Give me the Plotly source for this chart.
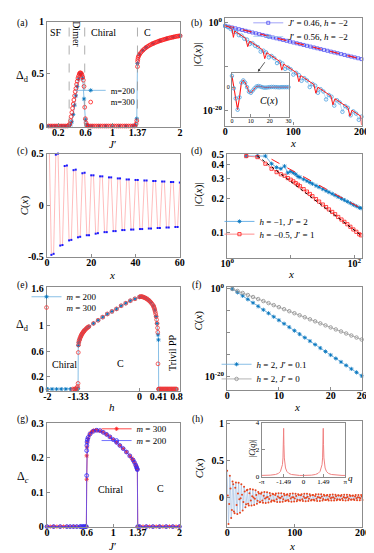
import plotly.graph_objects as go

W, H = 374, 553
SERIF = "Liberation Serif"
FRAME = "#8c8c8c"
BLUE = "#0072BD"
LBLUE = "#6aaee0"
RED = "#ff1a1a"

# ---------------- (a) dimer order vs J'
a_j_m200 = [0.05, 0.1, 0.15, 0.2, 0.25, 0.3, 0.35, 0.38, 0.4, 0.42, 0.44, 0.46, 0.48, 0.5,
            0.52, 0.54, 0.56, 0.58, 0.6, 0.62, 0.65, 0.7, 0.8, 0.9, 1.0, 1.1, 1.2, 1.3,
            1.34, 1.36, 1.37, 1.4, 1.45, 1.5, 1.6, 1.7, 1.8, 1.9, 2.0]
a_d_m200 = [0, 0, 0, 0, 0, 0, 0, 0.01, 0.04, 0.11, 0.2, 0.29, 0.38, 0.45,
            0.5, 0.5, 0.46, 0.26, 0.06, 0.01, 0, 0, 0, 0, 0, 0, 0, 0,
            0.01, 0.07, 0.6, 0.688, 0.727, 0.755, 0.792, 0.818, 0.838, 0.854, 0.866]
a_j_m300 = [0.03, 0.06, 0.09, 0.12, 0.15, 0.18, 0.21, 0.24, 0.27, 0.3, 0.33,
            0.35, 0.37, 0.38, 0.39, 0.4, 0.41, 0.42, 0.43, 0.44, 0.45, 0.46, 0.47, 0.48, 0.49,
            0.5, 0.51, 0.52, 0.53, 0.54, 0.55, 0.56, 0.57, 0.58, 0.59, 0.6, 0.61, 0.62,
            0.64, 0.67, 0.7, 0.73, 0.76, 0.79, 0.82, 0.85, 0.88, 0.91, 0.94, 0.97, 1.0, 1.03,
            1.06, 1.09, 1.12, 1.15, 1.18, 1.21, 1.24, 1.27, 1.3, 1.33,
            1.35, 1.36, 1.37, 1.372, 1.375, 1.38, 1.39, 1.4,
            1.42, 1.44, 1.46, 1.48, 1.5, 1.52, 1.54, 1.56, 1.58, 1.6, 1.62, 1.64, 1.66, 1.68,
            1.7, 1.72, 1.74, 1.76, 1.78, 1.8, 1.82, 1.84, 1.86, 1.88, 1.9, 1.92, 1.94, 1.96,
            1.98, 2.0]
a_d_m300 = [0, 0, 0, 0, 0, 0, 0, 0, 0, 0, 0,
            0.005, 0.02, 0.05, 0.09, 0.13, 0.17, 0.21, 0.25, 0.29, 0.33, 0.36, 0.4, 0.43, 0.46,
            0.48, 0.5, 0.51, 0.51, 0.505, 0.49, 0.47, 0.44, 0.38, 0.18, 0.07, 0.03, 0.01,
            0, 0, 0, 0, 0, 0, 0, 0, 0, 0, 0, 0, 0, 0,
            0, 0, 0, 0, 0, 0, 0, 0, 0, 0,
            0.02, 0.05, 0.57, 0.62, 0.64, 0.66, 0.675, 0.688,
            0.705, 0.72, 0.733, 0.745, 0.755, 0.764, 0.772, 0.779, 0.786, 0.792, 0.798, 0.803,
            0.808, 0.813, 0.818, 0.822, 0.826, 0.83, 0.834, 0.838, 0.842, 0.845, 0.848, 0.851,
            0.854, 0.857, 0.86, 0.862, 0.864, 0.866]
a_bounds = [0.36, 0.59, 1.37]

# ---------------- (b) |C(x)| on log scale, log10 values
b_x_046 = [0, 5, 10, 15, 20, 25, 30, 35, 40, 45, 50, 55, 60, 65, 70, 75, 80, 85, 90, 95, 100,
           105, 110, 115, 120, 125, 130, 135, 140, 145, 150, 155, 160, 165, 170, 175, 180,
           185, 190, 195, 200]
b_log_046 = [-0.8, -0.98, -1.17, -1.36, -1.55, -1.73, -1.92, -2.11, -2.3, -2.48, -2.67,
             -2.86, -3.05, -3.23, -3.42, -3.61, -3.8, -3.98, -4.17, -4.36, -4.55, -4.73,
             -4.92, -5.11, -5.3, -5.48, -5.67, -5.86, -6.05, -6.23, -6.42, -6.61, -6.8,
             -6.98, -7.17, -7.36, -7.55, -7.73, -7.92, -8.11, -8.3]
b_fit_x_046 = [0, 200]
b_fit_log_046 = [-0.7, -8.3]
b_x_056 = [0, 4, 8, 12, 16, 20, 24, 28, 32, 36, 40, 44, 48, 52, 56, 60, 64, 68, 72, 76, 80,
           84, 88, 92, 96, 100, 104, 108, 112, 116, 120, 124, 128, 132, 136, 140, 144, 148,
           152, 156, 160, 164, 168, 172, 176, 180, 184, 188, 192, 196, 200]
b_log_056 = [-0.8, -1.1, -1.5, -2.1, -2.2, -2.9, -3.0, -3.7, -3.9, -4.9, -4.7, -5.3, -5.6,
             -6.6, -6.4, -6.8, -7.9, -7.6, -8.1, -9.2, -8.9, -9.3, -10.5, -10.2, -10.6,
             -11.8, -11.4, -11.9, -13.2, -12.6, -13.1, -14.6, -13.9, -14.3, -15.9, -15.1,
             -15.6, -17.4, -16.4, -16.8, -18.8, -17.6, -18.1, -20.2, -18.9, -19.3, -21.0,
             -20.1, -20.6, -22.0, -21.3]
b_line_x_056 = [0, 5, 10, 12, 14, 20, 25, 30, 33, 36, 40, 45, 50, 55, 58, 61, 65, 70, 75, 80,
                83, 86, 90, 95, 100, 105, 108, 111, 115, 120, 125, 130, 133, 136, 140, 145,
                150, 155, 158, 161, 165, 170, 175, 180, 183, 186, 190, 195, 199, 200]
b_line_log_056 = [-0.8, -1.02, -1.54, -3.4, -1.96, -2.58, -3.1, -3.62, -5.5, -4.24, -4.66,
                  -5.18, -5.7, -6.22, -8.2, -6.84, -7.26, -7.78, -8.3, -8.82, -10.8, -9.44,
                  -9.86, -10.38, -10.9, -11.42, -13.4, -12.04, -12.46, -12.98, -13.5, -14.02,
                  -16.0, -14.64, -15.06, -15.58, -16.1, -16.62, -18.6, -17.24, -17.66, -18.18,
                  -18.7, -19.22, -21.2, -19.84, -20.26, -20.78, -21.2, -23.2]
# inset of (b)
bi_x = [0, 1, 2, 3, 4, 5, 6, 7, 8, 9, 10, 11, 12, 13, 14, 15, 16, 17, 18, 19, 20, 21, 22, 23,
        24, 25, 26, 27, 28, 29, 30]
bi_c = [0.5, -0.05, -0.5, -1.0, -0.45, 0.2, 0.3, 0.2, 0.0, -0.2, -0.25, -0.15, -0.05, 0.03,
        0.05, 0.03, 0.0, -0.02, -0.02, -0.01, 0.0, 0.01, 0.01, 0.0, 0.0, -0.01, 0.0, 0.0,
        0.0, 0.0, 0.0]

# ---------------- (c) C(x)
c_x = [0, 1, 2, 3, 4, 5, 6, 7, 8, 9, 10, 11, 12, 13, 14, 15, 16, 17, 18, 19, 20, 21, 22, 23,
       24, 25, 26, 27, 28, 29, 30, 31, 32, 33, 34, 35, 36, 37, 38, 39, 40, 41, 42, 43, 44,
       45, 46, 47, 48, 49, 50, 51, 52, 53, 54, 55, 56, 57, 58, 59, 60]
c_c = [0.62, 0.6, -0.48, -0.47, 0.49, 0.5, -0.39, -0.385, 0.38, 0.385, -0.34, -0.335, 0.34,
       0.345, -0.31, -0.305, 0.31, 0.315, -0.29, -0.29, 0.29, 0.29, -0.275, -0.27, 0.28, 0.28,
       -0.26, -0.26, 0.27, 0.27, -0.25, -0.25, 0.26, 0.26, -0.24, -0.24, 0.25, 0.25, -0.235,
       -0.235, 0.245, 0.245, -0.23, -0.23, 0.24, 0.24, -0.225, -0.225, 0.235, 0.235, -0.22,
       -0.22, 0.23, 0.23, -0.215, -0.215, 0.225, 0.225, -0.21, -0.21, 0.22]

# ---------------- (d) |C(x)| log-log
d_x = [2, 3, 4, 5, 6, 7, 8, 9, 10, 11, 12, 13, 14, 16, 18, 20, 22, 25, 28, 32, 36, 40, 45, 50,
       56, 63, 70, 78, 87, 97, 108, 120, 128]
d_c_blue = [0.48, 0.48, 0.48, 0.41, 0.38, 0.37, 0.39, 0.34, 0.35, 0.34, 0.33, 0.315, 0.31,
            0.298, 0.288, 0.279, 0.271, 0.261, 0.253, 0.243, 0.235, 0.228, 0.221, 0.214,
            0.207, 0.2, 0.194, 0.188, 0.182, 0.176, 0.171, 0.166, 0.164]
d_c_red = [0.48, 0.47, 0.41, 0.37, 0.345, 0.33, 0.32, 0.305, 0.295, 0.285, 0.275, 0.266,
           0.258, 0.243, 0.231, 0.22, 0.21, 0.198, 0.188, 0.177, 0.168, 0.16, 0.152, 0.145,
           0.137, 0.13, 0.124, 0.118, 0.112, 0.106, 0.101, 0.096, 0.094]
d_fit_x_blue = [5, 128]
d_fit_c_blue = [0.45, 0.164]
d_fit_x_red = [3, 128]
d_fit_c_red = [0.48, 0.094]

# ---------------- (e) dimer order vs h
e_h_m200 = [-2.0, -1.9, -1.8, -1.7, -1.6, -1.5, -1.4, -1.35, -1.335, -1.33, -1.32, -1.3,
            -1.27, -1.24, -1.2, -1.15, -1.1, -1.0, -0.9, -0.8, -0.7, -0.6, -0.5, -0.4, -0.3,
            -0.2, -0.1, 0.0, 0.05, 0.1, 0.15, 0.2, 0.25, 0.3, 0.33, 0.36, 0.38, 0.4, 0.41,
            0.415, 0.45, 0.5, 0.6, 0.7, 0.8]
e_d_m200 = [0, 0, 0, 0, 0, 0, 0, 0, 0.01, 0.69, 0.74, 0.79, 0.84, 0.88, 0.93, 0.96, 0.99,
            1.04, 1.09, 1.14, 1.19, 1.23, 1.27, 1.32, 1.36, 1.4, 1.43, 1.46, 1.465, 1.452,
            1.437, 1.406, 1.37, 1.32, 1.255, 1.15, 1.04, 0.86, 0.78, 0, 0, 0, 0, 0, 0]
e_h_m300 = [-1.45, -1.42, -1.4, -1.38, -1.36, -1.345, -1.335,
            -1.33, -1.325, -1.32, -1.31, -1.3, -1.29, -1.28, -1.27, -1.26, -1.25, -1.24,
            -1.23, -1.22, -1.21, -1.2, -1.18, -1.16, -1.14, -1.12, -1.1,
            -1.0, -0.9, -0.8, -0.7, -0.6, -0.5, -0.4, -0.3, -0.2, -0.1, 0.0,
            0.02, 0.04, 0.06, 0.08, 0.1, 0.12, 0.14, 0.16, 0.18, 0.2, 0.22, 0.24, 0.26, 0.28,
            0.3, 0.31, 0.32, 0.33, 0.34, 0.35, 0.36, 0.37, 0.38, 0.39, 0.395, 0.4,
            0.41, 0.425, 0.44, 0.455, 0.47, 0.485, 0.5, 0.515, 0.53, 0.545, 0.56, 0.575, 0.59,
            0.605, 0.62, 0.635, 0.65, 0.665, 0.68, 0.695, 0.71, 0.725, 0.74, 0.755, 0.77,
            0.785, 0.8]
e_d_m300 = [0, 0, 0, 0.005, 0.02, 0.04, 0.09,
            0.58, 0.7, 0.74, 0.77, 0.79, 0.81, 0.83, 0.845, 0.86, 0.875, 0.885, 0.895, 0.905,
            0.915, 0.925, 0.94, 0.955, 0.97, 0.98, 0.99,
            1.04, 1.09, 1.14, 1.19, 1.23, 1.27, 1.32, 1.36, 1.4, 1.43, 1.46,
            1.465, 1.465, 1.462, 1.458, 1.452, 1.445, 1.437, 1.428, 1.418, 1.406, 1.393,
            1.378, 1.36, 1.34, 1.32, 1.3, 1.28, 1.255, 1.225, 1.19, 1.15, 1.1, 1.04, 0.97,
            0.9, 0.4,
            0, 0, 0, 0, 0, 0, 0, 0, 0, 0, 0, 0, 0, 0, 0, 0, 0, 0, 0, 0, 0, 0, 0, 0, 0, 0, 0]

# ---------------- (f) C(x), log10 values
f_x = [1, 2, 3, 4, 5, 6, 7, 8, 9, 10, 11, 12, 13, 14, 15, 16, 17, 18, 19, 20, 21, 22, 23,
       24, 25, 26]
f_log_j01 = [0, -0.78, -1.57, -2.36, -3.15, -3.95, -4.74, -5.53, -6.32, -7.11, -7.9, -8.69,
             -9.48, -10.27, -11.06, -11.85, -12.64, -13.43, -14.22, -15.01, -15.8, -16.59,
             -17.38, -18.17, -18.96, -19.75]
f_log_j0 = [0, -0.46, -0.92, -1.38, -1.84, -2.3, -2.76, -3.22, -3.68, -4.14, -4.6, -5.06,
            -5.52, -5.98, -6.44, -6.9, -7.36, -7.82, -8.28, -8.74, -9.2, -9.66, -10.12,
            -10.58, -11.04, -11.5]

# ---------------- (g) chiral order vs J'
g_j_m300 = [0, 0.05, 0.1, 0.15, 0.2, 0.25, 0.3, 0.35, 0.4, 0.45, 0.5, 0.55, 0.58, 0.595,
            0.6, 0.6, 0.605, 0.61, 0.62, 0.64, 0.66, 0.68, 0.7, 0.73, 0.76, 0.8, 0.85, 0.9,
            0.95, 1.0, 1.05, 1.1, 1.15, 1.2, 1.25, 1.28, 1.3, 1.32, 1.34, 1.35, 1.36, 1.365,
            1.37, 1.4, 1.45, 1.5, 1.55, 1.6, 1.65, 1.7, 1.75, 1.8, 1.85, 1.9, 1.95, 2.0]
g_c_m300 = [0, 0, 0, 0, 0, 0, 0, 0, 0, 0, 0, 0, 0, 0,
            0.137, 0.205, 0.23, 0.245, 0.255, 0.265, 0.271, 0.275, 0.278, 0.279, 0.279,
            0.277, 0.273, 0.267, 0.26, 0.252, 0.244, 0.235, 0.226, 0.216, 0.205, 0.198,
            0.193, 0.186, 0.178, 0.173, 0.168, 0.165,
            0, 0, 0, 0, 0, 0, 0, 0, 0, 0, 0, 0, 0, 0]
g_j_m200 = [0, 0.1, 0.2, 0.3, 0.35, 0.4, 0.45, 0.5, 0.52, 0.54, 0.56, 0.58, 0.595,
            0.6, 0.6, 0.602, 0.605, 0.61, 0.62, 0.65, 0.7, 0.75, 0.8, 0.85, 0.9, 0.95, 1.0,
            1.05, 1.1, 1.15, 1.2, 1.25, 1.3, 1.32, 1.34, 1.35, 1.36, 1.365,
            1.37, 1.4, 1.5, 1.6, 1.7, 1.8, 1.9, 2.0]
g_c_m200 = [0, 0, 0, 0, 0, 0, 0, 0, 0, 0, 0, 0, 0,
            0.148, 0.22, 0.235, 0.245, 0.252, 0.258, 0.268, 0.276, 0.279, 0.278, 0.273,
            0.267, 0.26, 0.252, 0.244, 0.235, 0.226, 0.216, 0.205, 0.193, 0.186, 0.178,
            0.173, 0.168, 0.165,
            0, 0, 0, 0, 0, 0, 0, 0]

# ---------------- (h) C(x) and |C(q)|
h_x = [0, 1, 2, 3, 4, 5, 6, 7, 8, 9, 10, 11, 12, 13, 14, 15, 16, 17, 18, 19,
       20, 21, 22, 23, 24, 25, 26, 27, 28, 29, 30, 31, 32, 33, 34, 35, 36, 37, 38, 39,
       40, 41, 42, 43, 44, 45, 46, 47, 48, 49, 50, 51, 52, 53, 54, 55, 56, 57, 58, 59,
       60, 61, 62, 63, 64, 65, 66, 67, 68, 69, 70, 71, 72, 73, 74, 75, 76, 77, 78, 79,
       80, 81, 82, 83, 84, 85, 86, 87, 88, 89, 90, 91, 92, 93, 94, 95, 96, 97, 98, 99,
       100, 101, 102, 103, 104, 105, 106, 107, 108, 109, 110, 111, 112, 113, 114, 115, 116,
       117, 118, 119, 120, 121, 122, 123, 124, 125, 126, 127, 128, 129, 130, 131, 132, 133,
       134, 135, 136, 137, 138, 139, 140, 141, 142, 143, 144, 145, 146, 147, 148, 149, 150,
       151, 152, 153, 154, 155, 156, 157, 158, 159, 160, 161, 162, 163, 164, 165, 166, 167,
       168, 169, 170, 171, 172, 173, 174, 175, 176, 177, 178, 179, 180, 181, 182, 183, 184,
       185, 186, 187, 188, 189, 190, 191, 192, 193, 194, 195, 196, 197, 198, 199, 200]
h_c = [0.360, 0.029, -0.355, -0.086, 0.294, 0.122, -0.274, -0.166, 0.215, 0.180, -0.187,
       -0.210, 0.133, 0.204, -0.100, -0.220, 0.056, 0.201, -0.024, -0.205, -0.008, 0.179,
       0.037, -0.173, -0.058, 0.144, 0.081, -0.131, -0.089, 0.100, 0.106, -0.083, -0.106,
       0.057, 0.115, -0.039, -0.107, 0.017, 0.110, 0.001, -0.100, -0.017, 0.097, 0.033,
       -0.082, -0.043, 0.076, 0.055, -0.062, -0.061, 0.052, 0.069, -0.038, -0.070, 0.026,
       0.074, -0.013, -0.072, 0.002, 0.072, 0.009, -0.066, -0.020, 0.063, 0.029, -0.056,
       -0.038, 0.050, 0.044, -0.041, -0.051, 0.033, 0.055, -0.023, -0.058, 0.013, 0.059,
       -0.004, -0.060, -0.006, 0.058, 0.015, -0.056, -0.024, 0.051, 0.032, -0.046, -0.039,
       0.039, 0.045, -0.031, -0.050, 0.023, 0.053, -0.014, -0.055, 0.005, 0.055, 0.004,
       -0.054, -0.012, 0.051, 0.020, -0.048, -0.028, 0.043, 0.035, -0.037, -0.040, 0.030,
       0.045, -0.023, -0.047, 0.015, 0.050, -0.007, -0.050, -0.002, 0.050, 0.010, -0.047,
       -0.017, 0.044, 0.024, -0.040, -0.030, 0.035, 0.036, -0.029, -0.040, 0.022, 0.043,
       -0.015, -0.045, 0.008, 0.046, 0.000, -0.045, -0.007, 0.044, 0.014, -0.041, -0.020,
       0.037, 0.026, -0.032, -0.031, 0.027, 0.035, -0.021, -0.038, 0.015, 0.039, -0.008,
       -0.041, 0.002, 0.041, 0.005, -0.040, -0.011, 0.037, 0.017, -0.035, -0.023, 0.031,
       0.028, -0.026, -0.032, 0.021, 0.035, -0.015, -0.037, 0.009, 0.039, -0.003, -0.039,
       -0.003, 0.037, 0.009, -0.036, -0.015, 0.034, 0.021, -0.030, -0.025, 0.025, 0.029,
       -0.021, -0.032, 0.016, 0.035, -0.010, -0.035, 0.004, 0.036, 0.002, -0.036, -0.008,
       0.034, 0.013, -0.031]
hq_q = [-3.14, -2.9, -2.5, -2.1, -1.88, -1.73, -1.63, -1.58, -1.54, -1.51, -1.49, -1.47,
        -1.44, -1.4, -1.35, -1.25, -1.1, -0.9, -0.6, -0.3, 0, 0.3, 0.6, 0.9, 1.1, 1.25, 1.35,
        1.4, 1.44, 1.47, 1.49, 1.51, 1.54, 1.58, 1.63, 1.73, 1.88, 2.1, 2.5, 2.9, 3.14]
hq_c = [0.1, 0.1, 0.12, 0.17, 0.25, 0.4, 0.65, 0.9, 1.4, 2.4, 3.6, 2.4, 1.4, 0.9, 0.65, 0.4,
        0.25, 0.17, 0.12, 0.1, 0.1, 0.1, 0.12, 0.17, 0.25, 0.4, 0.65, 0.9, 1.4, 2.4, 3.6, 2.4,
        1.4, 0.9, 0.65, 0.4, 0.25, 0.17, 0.12, 0.1, 0.1]


def dom(l, r, t, b):
    return [l / W, r / W], [1 - b / H, 1 - t / H]


def axis(domain, rng, anchor, typ="linear", vals=None, text=None, size=10, bold=True,
         standoff=0, minor=None):
    d = dict(domain=domain, range=rng, anchor=anchor, type=typ, showline=True, mirror=True,
             linecolor=FRAME, linewidth=1.2, ticks="inside", ticklen=3, tickwidth=1,
             tickcolor=FRAME, showgrid=False, zeroline=False, tickangle=0,
             ticklabelstandoff=standoff,
             tickfont=dict(family=SERIF, size=size, color="black",
                           weight="bold" if bold else "normal"))
    if vals is not None:
        d.update(tickmode="array", tickvals=vals, ticktext=text)
    if minor:
        d["minor"] = dict(tickmode="array", tickvals=minor, ticks="inside", ticklen=3,
                          tickcolor=FRAME, showgrid=False)
    return d


def ll(v):
    return [10 ** s for s in v]


boxes = {
    "a": (33.5, 172, 7, 114), "b": (219, 361, 3.5, 113), "bi": (226, 285, 59, 104),
    "c": (33.3, 171.7, 141.7, 247.3), "d": (221, 362, 141.7, 248.3),
    "e": (33.3, 172, 278.5, 384), "f": (221, 362, 278.3, 383.3),
    "g": (33.3, 172, 416.7, 523.3), "h": (221, 362, 415, 523.3), "hi": (257, 344, 417, 472),
}
ids = {"a": "", "b": "2", "bi": "3", "c": "4", "d": "5", "e": "6", "f": "7", "g": "8",
       "h": "9", "hi": "10"}

layout = {}
specs = {
    "a": dict(rng=[0.035, 2.0], yr=[-0.005, 1.0],
              xv=[0.2, 0.6, 1, 1.37, 2], xt=["0.2", "0.6", "1", "1.37", "2"],
              yv=[0, 0.5, 1], yt=["0", "0.5", "1"]),
    "b": dict(rng=[0, 200], yr=[-23.3, 0.88], ytype="log",
              xv=[0, 100, 200], xt=["0", "100", "200"],
              yv=[1, 1e-20], yt=["10<sup>0</sup>", "10<sup>-20</sup>"], ym=[1e-10]),
    "bi": dict(rng=[0, 30], yr=[-1.31, 0.64], size=6, bold=False,
               xv=[0, 10, 20, 30], xt=["0", "10", "20", "30"], yv=[0], yt=["0"]),
    "c": dict(rng=[0, 60], yr=[-0.5, 0.5], xv=[0, 20, 40, 60], xt=["0", "20", "40", "60"],
              yv=[-0.5, 0, 0.5], yt=["-0.5", "0", "0.5"]),
    "d": dict(rng=[0, 2.13], xtype="log", yr=[-1.229, -0.297], ytype="log",
              xv=[1, 100], xt=["10<sup>0</sup>", "10<sup>2</sup>"], xm=[10],
              yv=[0.1, 0.2, 0.3, 0.4, 0.5], yt=["0.1", "0.2", "0.3", "0.4", "0.5"]),
    "e": dict(rng=[-2.01, 0.88], yr=[-0.025, 1.61],
              xv=[-2, -1.33, 0, 0.41, 0.8], xt=["-2", "-1.33", "0", "0.41", "0.8"],
              yv=[0, 0.2, 0.6, 1, 1.6], yt=["0", "0.2", "0.6", "1", "1.6"]),
    "f": dict(rng=[0, 26.15], yr=[-22.96, 0.38], ytype="log",
              xv=[0, 10, 20, 26], xt=["0", "10", "20", "26"],
              yv=[1, 1e-20], yt=["10<sup>0</sup>", "10<sup>-20</sup>"],
              ym=[1e-5, 1e-10, 1e-15]),
    "g": dict(rng=[0, 2.01], yr=[-0.001, 0.301],
              xv=[0, 0.6, 1, 1.37, 2], xt=["0", "0.6", "1", "1.37", "2"],
              yv=[0, 0.1, 0.2, 0.3], yt=["0", "0.1", "0.2", "0.3"]),
    "h": dict(rng=[0, 200], yr=[-0.395, 1.03], xv=[0, 100, 200], xt=["0", "100", "200"],
              yv=[0, 0.5, 1], yt=["0", "0.5", "1"]),
    "hi": dict(rng=[-3.1416, 3.1416], yr=[0, 4], size=7, bold=False,
               xv=[-3.1416, -1.49, 0, 1.49, 3.1416], xt=["-π", "-1.49", "0", "1.49", "π"],
               yv=[0, 2, 4], yt=["0", "2", "4"]),
}
for k, s in specs.items():
    xd, yd = dom(*boxes[k])
    n = ids[k]
    size = s.get("size", 10)
    bold = s.get("bold", True)
    inset = k in ("bi", "hi")
    layout["xaxis" + n] = axis(xd, s["rng"], "y" + n, s.get("xtype", "linear"),
                               s["xv"], s["xt"], size, bold, -2 if inset else -4,
                               s.get("xm"))
    layout["yaxis" + n] = axis(yd, s["yr"], "x" + n, s.get("ytype", "linear"),
                               s["yv"], s["yt"], size, bold, 0, s.get("ym"))

fig = go.Figure()


def add(k, **kw):
    n = ids[k]
    fig.add_trace(go.Scatter(xaxis="x" + n, yaxis="y" + n, cliponaxis=False, **kw))


star = dict(symbol="asterisk-open", size=3.5, color=BLUE, line=dict(width=0.8, color=BLUE))
ring = dict(symbol="circle-open", size=3.8, color=RED, line=dict(width=0.8, color=RED))

# (a)
add("a", x=a_j_m200, y=a_d_m200, mode="lines+markers", name="m=200", legend="legend",
    line=dict(color=LBLUE, width=0.8), marker=star)
add("a", x=a_j_m300, y=a_d_m300, mode="markers", name="m=300", legend="legend2",
    marker=ring)

# (b)
add("b", x=b_x_046, y=ll(b_log_046), mode="lines+markers", legend="legend3",
    name="<i>J</i>′ = 0.46, <i>h</i> = −2", line=dict(color="#8a8cf5", width=0.8),
    marker=dict(symbol="square-open", size=3, color="#3c3cf0", line=dict(width=0.7)))
add("b", x=b_fit_x_046, y=ll(b_fit_log_046), mode="lines", showlegend=False,
    line=dict(color=RED, width=1.1, dash="dash"))
add("b", x=b_x_056, y=ll(b_log_056), mode="lines+markers", legend="legend4",
    name="<i>J</i>′ = 0.56, <i>h</i> = −2", line=dict(color="#9cc9ef", width=0.7),
    marker=dict(symbol="circle-open", size=3.5, color="#4a9fe0", line=dict(width=0.8)))
add("b", x=b_line_x_056, y=ll(b_line_log_056), mode="lines", showlegend=False,
    line=dict(color=RED, width=1))
add("bi", x=bi_x, y=bi_c, mode="lines+markers", showlegend=False,
    line=dict(color=RED, width=1.1),
    marker=dict(symbol="circle-open", size=3.5, color="#4a9fe0", line=dict(width=0.8)))

# (c)
add("c", x=c_x, y=c_c, mode="lines+markers", showlegend=False,
    line=dict(color="rgba(255,90,90,0.5)", width=0.8),
    marker=dict(symbol="square", size=2, color="#1a1aff"))

# (d)
add("d", x=d_x, y=d_c_blue, mode="lines+markers", legend="legend5",
    name="<i>h</i> = −1, <i>J</i>′ = 2", line=dict(color="#4a9fe0", width=0.8), marker=star)
add("d", x=d_x, y=d_c_red, mode="lines+markers", legend="legend6",
    name="<i>h</i> = −0.5, <i>J</i>′ = 1", line=dict(color="#ff7070", width=0.8),
    marker=dict(symbol="square-open", size=3.2, color=RED, line=dict(width=0.8)))
add("d", x=d_fit_x_blue, y=d_fit_c_blue, mode="lines", showlegend=False,
    line=dict(color=RED, width=1, dash="dash"))
add("d", x=d_fit_x_red, y=d_fit_c_red, mode="lines", showlegend=False,
    line=dict(color="black", width=1, dash="dot"))

# (e)
add("e", x=e_h_m200, y=e_d_m200, mode="lines+markers", legend="legend7",
    name="<i>m</i> = 200", line=dict(color=LBLUE, width=0.8), marker=star)
add("e", x=e_h_m300, y=e_d_m300, mode="markers", legend="legend8", name="<i>m</i> = 300",
    marker=dict(symbol="circle-open", size=3.8, color="#f03a3a", line=dict(width=0.8)))

# (f)
add("f", x=f_x, y=ll(f_log_j01), mode="lines+markers", legend="legend9",
    name="<i>h</i> = 2, <i>J</i>′ = 0.1", line=dict(color=LBLUE, width=0.8), marker=star)
add("f", x=f_x, y=ll(f_log_j0), mode="lines+markers", legend="legend10",
    name="<i>h</i> = 2, <i>J</i>′ = 0", line=dict(color="#a0a0a0", width=0.8),
    marker=dict(symbol="circle-open", size=3.5, color="#8c8c8c", line=dict(width=0.8)))

# (g)
add("g", x=g_j_m300, y=g_c_m300, mode="lines+markers", legend="legend11",
    name="<i>m</i> = 300", line=dict(color=RED, width=0.8),
    marker=dict(symbol="asterisk-open", size=3.5, color=RED, line=dict(width=0.8, color=RED)))
add("g", x=g_j_m200, y=g_c_m200, mode="lines+markers", legend="legend12",
    name="<i>m</i> = 200", line=dict(color="#5050ff", width=0.8),
    marker=dict(symbol="circle-open", size=3.8, color="#2a2aff", line=dict(width=0.8)))

# (h)
add("h", x=h_x, y=h_c, mode="lines+markers", showlegend=False,
    line=dict(color="#b4cbe8", width=0.9),
    marker=dict(symbol="circle", size=2, color="#e8451e"))
add("hi", x=hq_q, y=hq_c, mode="lines", showlegend=False,
    line=dict(color="#f08080", width=1))


def P(x, y):
    return x / W, 1 - y / H


ann = []


def note(text, x, y, size=11, angle=0, xa="center", ya="middle", color="black"):
    px, py = P(x, y)
    ann.append(dict(text=text, x=px, y=py, xref="paper", yref="paper", showarrow=False,
                    textangle=angle, xanchor=xa, yanchor=ya,
                    font=dict(family=SERIF, size=size, color=color)))


for lab, (x, y) in zip("abcdefgh", [(0, 1), (181, 1), (0, 132), (181, 132), (0, 269),
                                    (182, 269), (0, 406), (182, 406)]):
    note("(" + lab + ")", x, y, size=9.5, xa="left", ya="top")

# axis titles
note("<i>J</i>′", 102, 132, 11)
note("Δ<sub>d</sub>", 8, 62, 12)
note("<i>x</i>", 290, 131, 11)
note("|<i>C</i>(<i>x</i>)|", 190, 40, 11, angle=-90)
note("<i>x</i>", 101, 266, 11)
note("<i>C</i>(<i>x</i>)", 10, 195, 11, angle=-90)
note("<i>x</i>", 288, 265, 11)
note("|<i>C</i>(<i>x</i>)|", 191, 183, 11, angle=-90)
note("<i>h</i>", 101, 401, 11)
note("Δ<sub>d</sub>", 8, 317, 12)
note("<i>x</i>", 294, 401, 11)
note("<i>C</i>(<i>x</i>)", 191, 312, 11, angle=-90)
note("<i>J</i>′", 102, 543, 11)
note("Δ<sub><i>c</i></sub>", 8, 472, 12)
note("<i>x</i>", 289, 543, 11)
note("<i>C</i>(<i>x</i>)", 193, 463, 11, angle=-90)
note("|<i>C</i>(<i>q</i>)|", 247, 443, 8, angle=-90)
note("<i>q</i>", 350, 473, 9)
note("<i>C</i>(<i>x</i>)", 265, 88, 10)

# phase labels
note("SF", 43, 18, 10)
note("Dimer", 64, 20, 10, angle=90)
note("Chiral", 92, 18, 10)
note("C", 138, 18, 10)
note("Chiral", 52, 357, 10)
note("C", 110, 356, 10)
note("Trivil PP", 164, 345, 10, angle=-90)
note("Chiral", 99, 485, 10)
note("C", 152, 484, 10)

# arrow to the inset of (b)
ax_, ay_ = P(253, 58)
ann.append(dict(x=ax_, y=ay_, xref="paper", yref="paper", text="", showarrow=True,
                ax=8, ay=-11, arrowhead=2, arrowsize=0.7, arrowwidth=0.8,
                arrowcolor="#333333"))

shapes = []
for b in a_bounds:
    shapes.append(dict(type="line", xref="x", yref="y domain", x0=b, x1=b, y0=0, y1=1,
                       line=dict(color="#999999", width=0.8, dash="dash")))


def leg(x, y, size=9):
    # one entry per legend box, centred on its row
    px, py = P(x, y)
    return dict(x=px, y=py, xanchor="left", yanchor="middle", bgcolor="rgba(0,0,0,0)",
                borderwidth=0, itemwidth=30, tracegroupgap=0,
                font=dict(family=SERIF, size=size, color="black"))


legend_rows = {
    "legend": (58, 77, 8.5), "legend2": (58, 89, 8.5),
    "legend3": (243, 8, 9), "legend4": (243, 22, 9),
    "legend5": (213, 211, 9), "legend6": (213, 224, 9),
    "legend7": (12, 288, 9), "legend8": (12, 299, 9),
    "legend9": (210, 357, 9), "legend10": (210, 372, 9),
    "legend11": (85, 423, 9), "legend12": (85, 435, 9),
}
for name, (x, y, s) in legend_rows.items():
    layout[name] = leg(x, y, s)

layout.update(
    width=W, height=H, autosize=False,
    margin=dict(l=0, r=0, t=0, b=0),
    paper_bgcolor="white", plot_bgcolor="white",
    font=dict(family=SERIF, size=10, color="black"),
    annotations=ann, shapes=shapes,
)
fig.update_layout(**layout)
fig.write_html("out.html")
